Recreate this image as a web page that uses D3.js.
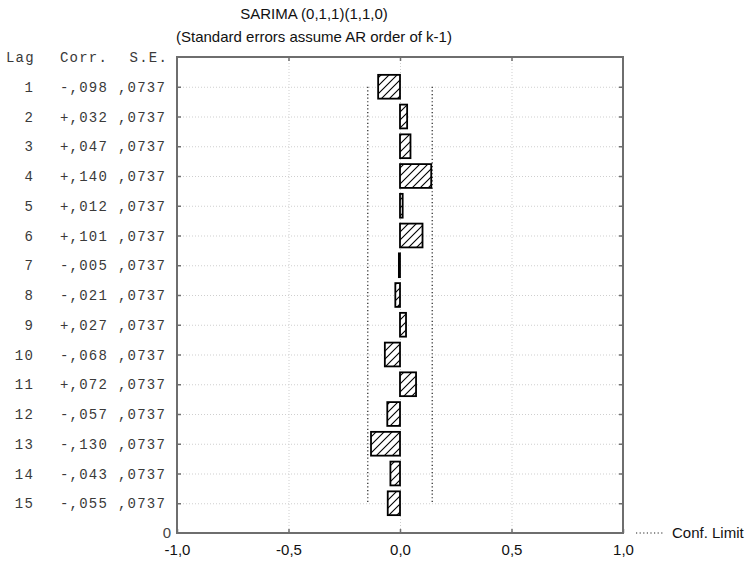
<!DOCTYPE html>
<html>
<head>
<meta charset="utf-8">
<script src="https://cdn.jsdelivr.net/npm/d3@7"></script>
<style>
  html, body { margin: 0; padding: 0; background: #fff; }
  svg { display: block; }
</style>
</head>
<body>
<svg id="chart" width="751" height="562"></svg>
<script>
// Residual autocorrelation function, SARIMA (0,1,1)(1,1,0)
const lags = [1, 2, 3, 4, 5, 6, 7, 8, 9, 10, 11, 12, 13, 14, 15];
const corr = [-0.098, 0.032, 0.047, 0.140, 0.012, 0.101, -0.005, -0.021, 0.027, -0.068, 0.072, -0.057, -0.130, -0.043, -0.055];
const stdErr = [0.0737, 0.0737, 0.0737, 0.0737, 0.0737, 0.0737, 0.0737, 0.0737, 0.0737, 0.0737, 0.0737, 0.0737, 0.0737, 0.0737, 0.0737];
const xTicks = [-1, -0.5, 0, 0.5, 1];
const titleLines = ["SARIMA (0,1,1)(1,1,0)", "(Standard errors assume AR order of k-1)"];
const confZ = 1.96;

(function draw() {
  const svg = d3.select("#chart");
  const sans = "'Liberation Sans', Arial, sans-serif";
  const mono = "'Liberation Mono', 'Courier New', monospace";
  const axisColor = "#6e6e6e";
  const textColor = "#3a3a3a";

  const pLeft = 177, pRight = 623, pTop = 57, pBottom = 533;
  const x = d3.scaleLinear().domain([-1, 1]).range([pLeft, pRight]);
  const y = d3.scaleLinear().domain([0, lags.length + 1]).range([pBottom, pTop]);
  const rowY = lag => y(lags.length + 1 - lag);
  const rowStep = y(0) - y(1);
  const barH = rowStep * 0.8;

  const rows = lags.map((lag, i) => ({ lag, r: corr[i], se: stdErr[i] }));

  // hatch pattern for the bars
  const defs = svg.append("defs");
  const pat = defs.append("pattern")
    .attr("id", "hatch")
    .attr("patternUnits", "userSpaceOnUse")
    .attr("width", 8).attr("height", 8);
  pat.append("rect").attr("width", 8).attr("height", 8).attr("fill", "#fff");
  pat.append("path")
    .attr("d", "M-2,2 L2,-2 M0,8 L8,0 M6,10 L10,6")
    .attr("stroke", "#000").attr("stroke-width", 1.1);

  // title
  svg.append("g").selectAll("text").data(titleLines).join("text")
    .attr("x", 314).attr("y", (d, i) => 19 + i * 23)
    .attr("text-anchor", "middle")
    .attr("font-family", sans).attr("font-size", 15).attr("fill", "#111")
    .text(d => d);

  // grid
  const grid = svg.append("g").attr("stroke", "#cfcfcf").attr("stroke-width", 1).attr("stroke-dasharray", "1,2");
  grid.selectAll("line.h").data(rows).join("line").attr("class", "h")
    .attr("x1", pLeft).attr("x2", pRight)
    .attr("y1", d => rowY(d.lag) + 0.5).attr("y2", d => rowY(d.lag) + 0.5);
  grid.selectAll("line.v").data(xTicks.slice(1, -1)).join("line").attr("class", "v")
    .attr("x1", d => x(d) + 0.5).attr("x2", d => x(d) + 0.5)
    .attr("y1", pTop).attr("y2", pBottom);

  // confidence limits (± 1.96 · S.E.)
  const first = rows[0], last = rows[rows.length - 1];
  const confLim = confZ * first.se;
  svg.append("g").selectAll("line").data([-confLim, confLim]).join("line")
    .attr("x1", d => x(d)).attr("x2", d => x(d))
    .attr("y1", rowY(first.lag)).attr("y2", rowY(last.lag))
    .attr("stroke", "#222").attr("stroke-width", 1.2).attr("stroke-dasharray", "1.2,2.4");

  // bars
  svg.append("g").selectAll("rect").data(rows).join("rect")
    .attr("x", d => Math.min(x(0), x(d.r)))
    .attr("width", d => Math.abs(x(d.r) - x(0)))
    .attr("y", d => rowY(d.lag) - barH / 2)
    .attr("height", barH)
    .attr("fill", "url(#hatch)")
    .attr("stroke", "#000").attr("stroke-width", 1.8);

  // frame and axes
  const axG = svg.append("g");
  const rowTicks = lags.map(l => lags.length + 1 - l);
  axG.append("g").attr("transform", `translate(0,${pBottom})`)
    .call(d3.axisBottom(x).tickValues(xTicks).tickSizeInner(-4).tickSizeOuter(0)
      .tickFormat(d => d3.format(".1f")(d).replace(".", ",").replace("\u2212", "-")))
    .call(g => g.select(".domain").remove())
    .call(g => g.selectAll("line").attr("stroke", axisColor).attr("stroke-width", 1.5))
    .call(g => g.selectAll("text").attr("dy", null).attr("y", 22)
      .attr("font-family", sans).attr("font-size", 15).attr("fill", "#111"));
  axG.append("g").attr("transform", `translate(0,${pTop})`)
    .call(d3.axisTop(x).tickValues(xTicks.slice(1, -1)).tickSizeInner(-4).tickSizeOuter(0).tickFormat(""))
    .call(g => g.select(".domain").remove())
    .call(g => g.selectAll("line").attr("stroke", axisColor).attr("stroke-width", 1.5));
  axG.append("g").attr("transform", `translate(${pLeft},0)`)
    .call(d3.axisLeft(y).tickValues(rowTicks).tickSizeInner(-4).tickSizeOuter(0).tickFormat(""))
    .call(g => g.select(".domain").remove())
    .call(g => g.selectAll("line").attr("stroke", axisColor).attr("stroke-width", 1.5));
  axG.append("g").attr("transform", `translate(${pRight},0)`)
    .call(d3.axisRight(y).tickValues(rowTicks).tickSizeInner(-4).tickSizeOuter(0).tickFormat(""))
    .call(g => g.select(".domain").remove())
    .call(g => g.selectAll("line").attr("stroke", axisColor).attr("stroke-width", 1.5));
  axG.append("rect")
    .attr("x", pLeft).attr("y", pTop).attr("width", pRight - pLeft).attr("height", pBottom - pTop)
    .attr("fill", "none").attr("stroke", axisColor).attr("stroke-width", 2);

  // "0" at the base of the lag axis
  svg.append("text").attr("x", pLeft - 6).attr("y", pBottom + 5)
    .attr("text-anchor", "end").attr("font-family", sans).attr("font-size", 15).attr("fill", "#444")
    .text("0");

  // lag table on the left
  const fmtCorr = v => (v < 0 ? "-" : "+") + "," + Math.abs(v).toFixed(3).slice(2);
  const fmtSE = v => "," + v.toFixed(4).slice(2);
  const table = svg.append("g").attr("font-family", mono).attr("font-size", 14)
    .attr("fill", textColor).attr("letter-spacing", 1.2);
  const headY = y(lags.length + 1) + 5;
  table.append("text").attr("x", 6).attr("y", headY).text("Lag");
  table.append("text").attr("x", 60).attr("y", headY).text("Corr.");
  table.append("text").attr("x", 168).attr("y", headY).attr("text-anchor", "end").text("S.E.");
  const trow = table.selectAll("g.row").data(rows).join("g").attr("class", "row")
    .attr("transform", d => `translate(0,${rowY(d.lag) + 5})`);
  trow.append("text").attr("x", 34).attr("text-anchor", "end").text(d => d.lag);
  trow.append("text").attr("x", 60).text(d => fmtCorr(d.r));
  trow.append("text").attr("x", 118).text(d => fmtSE(d.se));

  // legend
  const lg = svg.append("g").attr("transform", `translate(636,${pBottom})`);
  lg.append("line").attr("x1", 0).attr("x2", 28).attr("y1", 0).attr("y2", 0)
    .attr("stroke", "#222").attr("stroke-width", 1.2).attr("stroke-dasharray", "1.2,2.4");
  lg.append("text").attr("x", 36).attr("y", 5)
    .attr("font-family", sans).attr("font-size", 15).attr("fill", "#111")
    .text("Conf. Limit");
})();
</script>
</body>
</html>
